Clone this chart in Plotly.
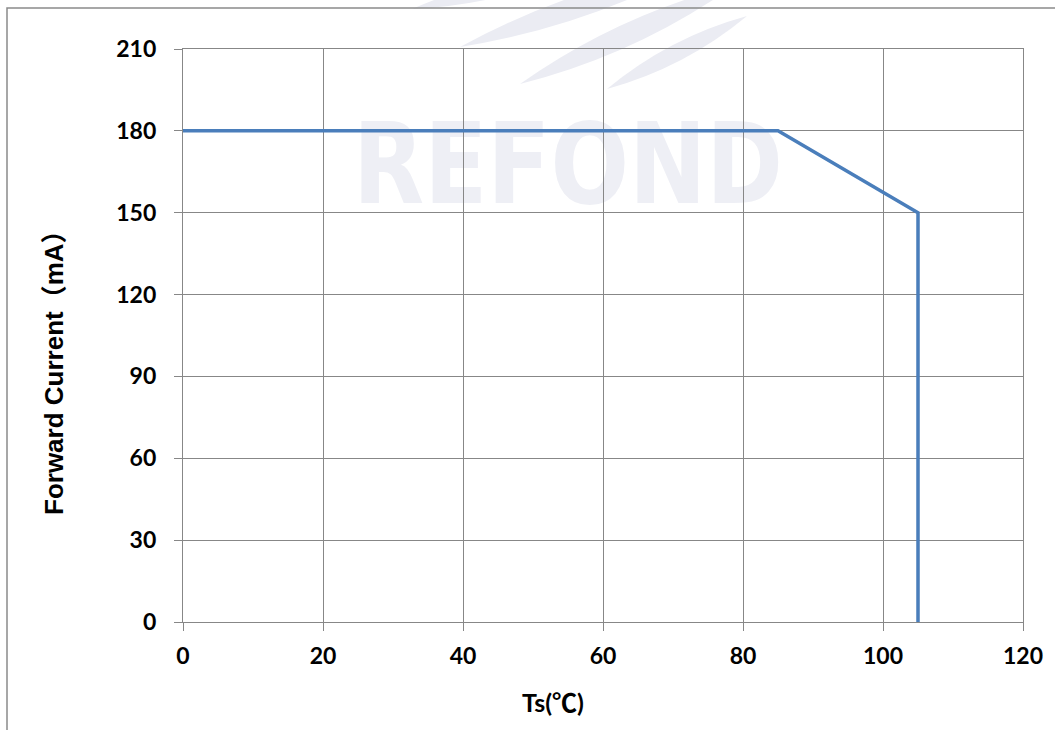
import plotly.graph_objects as go
import base64
import math

# Data
ts_c = [0, 85, 105, 105]
forward_current_ma = [180, 180, 150, 0]
x_ticks = [0, 20, 40, 60, 80, 100, 120]
y_ticks = [0, 30, 60, 90, 120, 150, 180, 210]

W, H = 1055, 730
L, R, T, B = 183, 32, 49, 108
PW, PH = W - L - R, H - T - B


def blade(x1, y1, x2, y2, w):
    mx, my = (x1 + x2) / 2, (y1 + y2) / 2
    dx, dy = x2 - x1, y2 - y1
    n = math.hypot(dx, dy)
    px, py = -dy / n * w, dx / n * w
    return (f'<path d="M{x1},{y1} Q{mx + px:.1f},{my + py:.1f} {x2},{y2} '
            f'Q{mx - px:.1f},{my - py:.1f} {x1},{y1} Z"/>')


blades = "".join([
    blade(412, 9, 580, -30, 16),
    blade(460, 47, 700, -35, 22),
    blade(520, 84, 735, -15, 22),
    blade(607, 89, 747, 16, 17),
])

wm_svg = f'''<svg xmlns="http://www.w3.org/2000/svg" width="{W}" height="{H}" viewBox="0 0 {W} {H}">
<g fill="#ebecf3">{blades}</g>
<text x="568" y="203" text-anchor="middle" font-family="Liberation Sans Narrow, DejaVu Sans Condensed, Liberation Sans" font-weight="bold" font-size="112" textLength="430" lengthAdjust="spacingAndGlyphs" fill="#eeeff5">REFOND</text>
</svg>'''
wm_uri = "data:image/svg+xml;base64," + base64.b64encode(wm_svg.encode("utf-8")).decode("ascii")

fig = go.Figure()
fig.add_trace(go.Scatter(
    x=ts_c, y=forward_current_ma, mode="lines",
    line=dict(color="#4a7ebb", width=3.5),
    hoverinfo="skip", showlegend=False,
))

tickfont = dict(family="Lato, Open Sans, sans-serif", size=23, color="#000000", weight="bold")

fig.update_xaxes(
    range=[0, 120], tickvals=x_ticks, ticktext=[str(v) for v in x_ticks],
    showgrid=True, gridcolor="#878787", gridwidth=1.3,
    showline=True, linecolor="#878787", linewidth=1.3, mirror=True,
    ticks="outside", ticklen=8, tickcolor="#878787", tickwidth=1.3,
    tickfont=tickfont, zeroline=False, ticklabelstandoff=5,
)
fig.update_yaxes(
    range=[0, 210], tickvals=y_ticks, ticktext=[str(v) for v in y_ticks],
    showgrid=True, gridcolor="#878787", gridwidth=1.3,
    showline=True, linecolor="#878787", linewidth=1.3, mirror=True,
    ticks="outside", ticklen=8, tickcolor="#878787", tickwidth=1.3,
    tickfont=tickfont, zeroline=False, ticklabelstandoff=13,
)

fig.update_layout(
    width=W, height=H,
    margin=dict(l=L, r=R, t=T, b=B, pad=0),
    paper_bgcolor="#ffffff", plot_bgcolor="rgba(0,0,0,0)",
    images=[dict(source=wm_uri, xref="paper", yref="paper",
                 x=-L / PW, y=1 + T / PH, sizex=W / PW, sizey=H / PH,
                 xanchor="left", yanchor="top", sizing="stretch", layer="below")],
    shapes=[dict(type="rect", xref="paper", yref="paper",
                 x0=(7 - L) / PW, x1=1.2, y0=-0.4, y1=(H - B - 8) / PH,
                 line=dict(color="#8a8a8a", width=1.5), fillcolor="rgba(0,0,0,0)",
                 layer="above")],
    annotations=[
        dict(text="Forward Current（mA）", xref="paper", yref="paper",
             x=(54 - L) / PW, y=(H - B - 366) / PH, textangle=-90, showarrow=False,
             xanchor="center", yanchor="middle",
             font=dict(family="Liberation Sans, Noto Sans CJK SC, Arial, sans-serif", size=26,
                       color="#000000", weight="bold")),
        dict(text="Ts(℃)", xref="paper", yref="paper",
             x=(553 - L) / PW, y=(H - B - 702) / PH, showarrow=False,
             xanchor="center", yanchor="middle",
             font=dict(family="Lato, Noto Sans CJK SC, sans-serif", size=25,
                       color="#000000", weight="bold")),
    ],
)

fig.write_html("out.html", config={"displayModeBar": False},
               post_script="document.body.style.margin='0';document.body.style.overflow='hidden';")
